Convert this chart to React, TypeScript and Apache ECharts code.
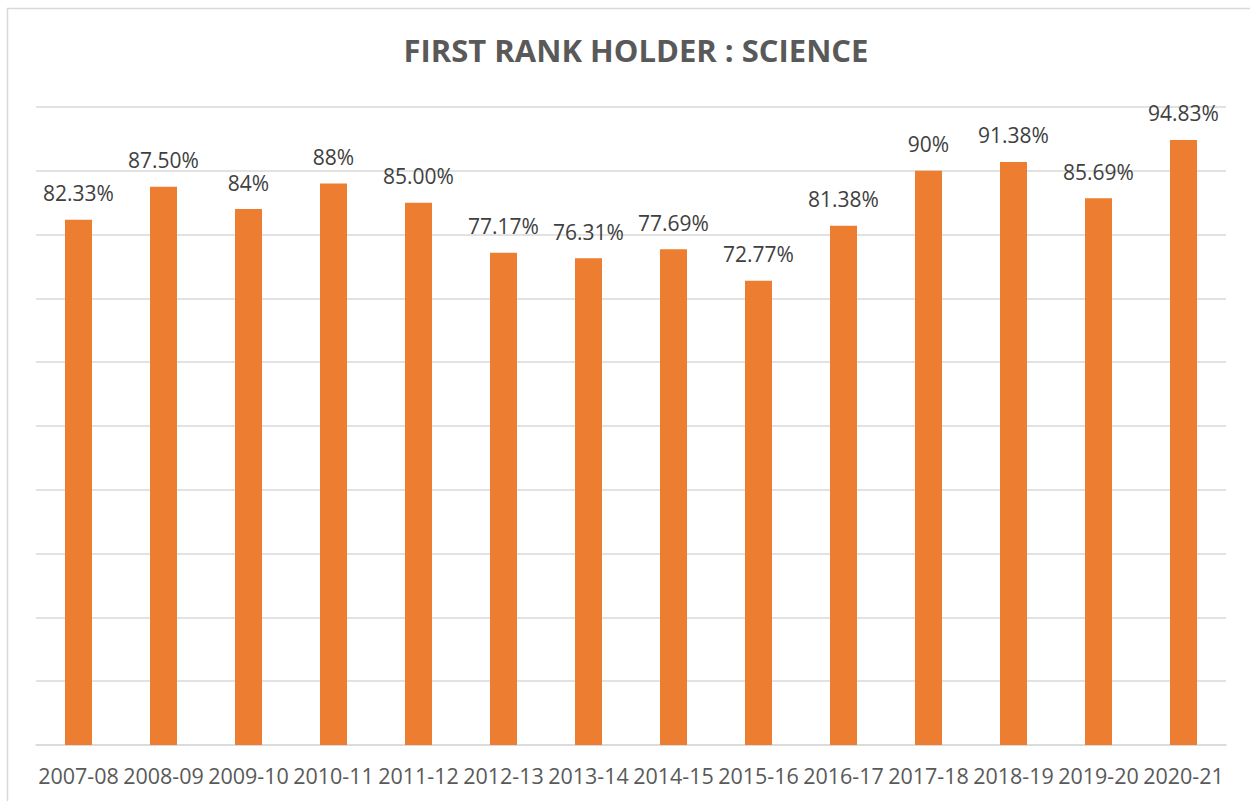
import React, { useEffect, useRef } from "react";
import * as echarts from "echarts";

const categories = ["2007-08", "2008-09", "2009-10", "2010-11", "2011-12", "2012-13", "2013-14", "2014-15", "2015-16", "2016-17", "2017-18", "2018-19", "2019-20", "2020-21"];
const values = [82.33, 87.5, 84, 88, 85.0, 77.17, 76.31, 77.69, 72.77, 81.38, 90, 91.38, 85.69, 94.83];
const valueLabels = ["82.33%", "87.50%", "84%", "88%", "85.00%", "77.17%", "76.31%", "77.69%", "72.77%", "81.38%", "90%", "91.38%", "85.69%", "94.83%"];
const titleText = "FIRST RANK HOLDER : SCIENCE";

export default function App() {
  const ref = useRef<HTMLDivElement>(null);
  useEffect(() => {
    const chart = echarts.init(ref.current!, null, { renderer: "svg" });
    const font = "'Open Sans', 'Noto Sans', sans-serif";
    chart.setOption({
      animation: false,
      backgroundColor: "#ffffff",
      title: {
        text: titleText,
        left: 631,
        textAlign: "center",
        top: 29,
        textStyle: { fontFamily: font, fontWeight: "bold", fontSize: 31, color: "#595959" },
      },
      graphic: [
        {
          type: "rect",
          shape: { x: 7.5, y: 8.5, width: 1260, height: 820 },
          style: { fill: "none", stroke: "#d9d9d9", lineWidth: 1.5 },
          silent: true,
        },
      ],
      grid: { left: 36, right: 24, top: 107, bottom: 56, containLabel: false },
      xAxis: {
        type: "category",
        data: categories,
        axisTick: { show: false },
        axisLine: { lineStyle: { color: "#d9d9d9", width: 1.5 } },
        axisLabel: { fontFamily: font, fontSize: 21.5, color: "#595959", margin: 19, interval: 0 },
      },
      yAxis: {
        type: "value",
        min: 0,
        max: 100,
        interval: 10,
        axisLabel: { show: false },
        axisLine: { show: false },
        axisTick: { show: false },
        splitLine: { lineStyle: { color: "#d9d9d9", width: 1.5 } },
      },
      series: [
        {
          type: "bar",
          data: values,
          barWidth: 27,
          itemStyle: { color: "#ED7D31" },
          label: {
            show: true,
            position: "top",
            distance: 16,
            fontFamily: font,
            fontSize: 21,
            color: "#404040",
            formatter: (p: any) => valueLabels[p.dataIndex],
          },
        },
      ],
    });
    return () => chart.dispose();
  }, []);
  return <div ref={ref} style={{ position: "absolute", left: 0, top: 0, width: 1250, height: 801 }} />;
}
